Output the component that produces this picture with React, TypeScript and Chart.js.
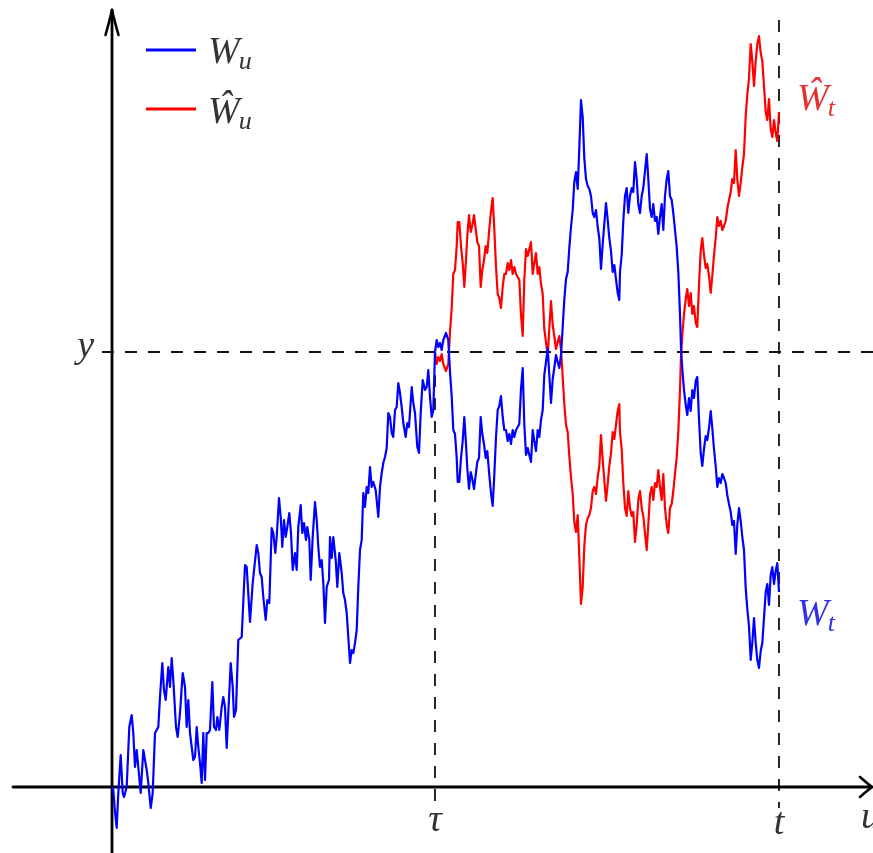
import React, { useEffect, useRef } from "react";
import { Chart, registerables } from "chart.js";

Chart.register(...registerables);

// Time axis u (arbitrary units), path value W (arbitrary units)
const TAU = 323; // first hitting time of level y
const T_END = 667; // final time t
const Y_LEVEL = 435; // level y

// sampled Brownian path W_u (times)
const U: number[] = [
  0, 1.3, 3, 4.7, 6.3, 8.7, 10.7, 12, 14.7, 17.3,
  19.7, 21.3, 23, 24.7, 26.3, 28.7, 31.3, 34.7, 36.3, 38.7,
  40.7, 43, 46.3, 48, 50.3, 52, 53.7, 56.3, 58, 59.7,
  61.3, 64, 65.7, 68, 70.7, 73, 74.7, 76.3, 78, 81.3,
  83, 84.7, 86.3, 88, 89.7, 91.3, 93, 94.7, 96.3, 98,
  100.3, 102, 104, 105.3, 107.3, 109.7, 111.3, 113, 114.7, 116.3,
  118.7, 120.7, 122, 124, 126.3, 129.7, 133, 134.7, 138, 140.7,
  144.7, 146.3, 148, 149.7, 151.3, 153.7, 155.3, 157.3, 159.7, 161.3,
  163.3, 164.7, 167, 168.7, 170.3, 172, 173.7, 175.3, 177.3, 179,
  180.7, 183, 184.7, 186.3, 188.7, 190.3, 192, 194, 195.3, 197.3,
  198.7, 200.7, 203, 204.7, 206.3, 208, 209.7, 211.3, 213, 214.7,
  217, 218, 219.7, 221.3, 223.7, 225.3, 227.3, 229.7, 231.3, 233,
  234.7, 236.3, 238, 239.7, 241.3, 243, 244.7, 246.3, 248, 249.7,
  251.3, 253, 254.7, 256.3, 258, 259.7, 261.3, 263.7, 266.3, 268,
  269.7, 271.3, 273, 274.7, 276.3, 278, 279.7, 281.3, 283, 284.7,
  286.3, 288, 289.7, 291.3, 293.7, 295.3, 297, 299.7, 301.3, 303,
  305.3, 307, 308.7, 310.7, 313, 314.7, 316.3, 318, 319.7, 321.3,
  323, 324.7, 326.3, 328, 329.7, 331.3, 334, 336.3, 338, 339.7,
  341.3, 343, 344.7, 345.7, 347.3, 349, 350.7, 352.3, 354, 355.3,
  357, 358.7, 360.3, 362, 363.7, 365.3, 367, 368.7, 370.3, 372,
  373.7, 375.3, 377.3, 379, 380.7, 382.3, 384, 385.7, 387.3, 389,
  390.7, 392.3, 394, 395.7, 397.3, 399, 400.7, 402.3, 404, 405.7,
  407.3, 409, 410.7, 412.3, 414, 415.7, 417.3, 419, 420.7, 422.3,
  424, 425.7, 427.3, 429, 430.7, 432.3, 434, 435.7, 437.3, 439,
  440.7, 442.3, 444, 445.7, 447.3, 449, 450.7, 452.3, 454, 455.7,
  457.3, 459, 460.7, 462.3, 464, 465.7, 467.3, 469, 470.7, 472.3,
  474, 475.7, 477.3, 479, 480.7, 482.3, 484, 485.7, 487.3, 489,
  490.7, 492.3, 494, 495.7, 497.3, 499, 500.7, 502.3, 504, 505.7,
  507.3, 508, 509.7, 511.3, 513, 514.7, 516.3, 518, 519.7, 521.3,
  523, 524.7, 526.3, 528, 529.7, 531.3, 533, 534.7, 536.3, 538,
  539.7, 541.3, 543, 544.7, 546.3, 548, 549.7, 551.3, 553, 554.7,
  556.3, 558, 559.7, 561.3, 563, 564.7, 566.3, 568, 569, 570.3,
  572, 574, 575.3, 577, 578.7, 580.3, 582, 583.7, 585.3, 587,
  588.7, 590.3, 592, 593.7, 595.3, 597, 598.7, 600.3, 602, 603.7,
  605.3, 607, 608.7, 610.3, 612, 613.7, 615.3, 617, 618.7, 620.3,
  622, 623.7, 625.3, 627, 628.7, 630.3, 632, 633.7, 635.3, 637,
  638.7, 640.3, 642, 643.7, 645.3, 647, 648.7, 650.3, 652, 653.7,
  655.3, 657, 658.7, 660.3, 662, 663.7, 665.3, 667,
];

// sampled Brownian path W_u (values)
const W: number[] = [
  0, -3, -25, -41, -6, 32, -6, -10, 0, 60,
  72, 54, 20, 37, 20, -6, 37, 17, 4, -21,
  -6, 54, 60, 90, 124, 97, 87, 120, 100, 129,
  107, 60, 50, 74, 114, 100, 60, 87, 54, 27,
  30, 60, 40, 24, 4, 54, 7, 54, 54, 57,
  105, 60, 57, 70, 57, 80, 90, 80, 39, 74,
  124, 100, 70, 77, 147, 150, 222, 220, 165, 204,
  242, 234, 214, 210, 190, 167, 187, 184, 259, 254,
  234, 250, 289, 270, 240, 267, 250, 260, 274, 254,
  217, 234, 217, 260, 282, 254, 264, 247, 260, 247,
  207, 250, 285, 267, 240, 220, 227, 204, 164, 200,
  207, 250, 229, 250, 227, 200, 234, 214, 194, 187,
  174, 150, 124, 137, 134, 144, 157, 200, 237, 247,
  294, 280, 300, 294, 320, 300, 305, 297, 270, 300,
  314, 324, 330, 339, 374, 370, 354, 350, 377, 380,
  404, 394, 380, 364, 350, 364, 360, 400, 384, 374,
  340, 334, 374, 407, 397, 400, 417, 390, 370, 377,
  435, 447, 440, 444, 437, 447, 454, 447, 415, 391,
  357, 353, 329, 305, 305, 329, 346, 370, 343, 319,
  298, 315, 308, 298, 312, 325, 329, 370, 353, 343,
  329, 336, 312, 294, 281, 312, 350, 377, 381, 391,
  370, 357, 357, 346, 353, 343, 357, 350, 357, 360,
  363, 398, 419, 363, 332, 339, 332, 325, 357, 346,
  336, 357, 350, 367, 377, 412, 425, 439, 412, 384,
  408, 419, 432, 425, 419, 432, 460, 487, 508, 515,
  539, 560, 577, 605, 615, 598, 639, 687, 670, 629,
  608, 601, 598, 591, 574, 570, 577, 560, 549, 518,
  543, 563, 584, 567, 549, 536, 515, 522, 508, 494,
  487, 515, 532, 566, 591, 599, 574, 591, 599, 595,
  625, 608, 583, 574, 591, 599, 616, 633, 608, 578,
  570, 583, 566, 570, 553, 570, 583, 557, 591, 608,
  616, 591, 587, 574, 557, 540, 515, 473, 439, 418,
  397, 380, 372, 389, 376, 397, 389, 406, 410, 368,
  334, 321, 338, 351, 347, 359, 376, 359, 338, 321,
  300, 309, 304, 313, 309, 304, 292, 283, 275, 262,
  266, 233, 262, 279, 266, 250, 237, 199, 178, 161,
  127, 144, 169, 144, 127, 119, 136, 144, 169, 195,
  203, 182, 212, 220, 203, 216, 224, 195,
];

const U_MIN = -112;
const U_MAX = 761;
const W_MIN = -66;
const W_MAX = 787;

const BLUE = "#0000ff";
const RED = "#ff0000";
const SERIF = '"Liberation Serif", "DejaVu Serif", serif';

const decorations = {
  id: "decorations",
  beforeDatasetsDraw(chart: any) {
    const ctx = chart.ctx as CanvasRenderingContext2D;
    const xs = chart.scales.x;
    const ys = chart.scales.y;
    const px = (u: number) => xs.getPixelForValue(u);
    const py = (w: number) => ys.getPixelForValue(w);
    ctx.save();
    // dashed guides
    ctx.strokeStyle = "#111";
    ctx.lineWidth = 1.8;
    ctx.setLineDash([12, 11]);
    ctx.beginPath();
    ctx.moveTo(px(-10), py(Y_LEVEL));
    ctx.lineTo(px(U_MAX), py(Y_LEVEL));
    ctx.stroke();
    ctx.beginPath();
    ctx.moveTo(px(TAU), py(Y_LEVEL));
    ctx.lineTo(px(TAU), py(-21));
    ctx.stroke();
    ctx.beginPath();
    ctx.moveTo(px(T_END), py(767));
    ctx.lineTo(px(T_END), py(-21));
    ctx.stroke();
    ctx.setLineDash([]);

    // axes
    ctx.strokeStyle = "#000";
    ctx.lineWidth = 2.8;
    ctx.lineCap = "round";
    ctx.lineJoin = "round";
    const x0 = px(0);
    const y0 = py(0);
    const xTip = px(U_MAX) - 1;
    const yTip = py(777);
    ctx.beginPath();
    ctx.moveTo(px(-99), y0);
    ctx.lineTo(xTip, y0);
    ctx.stroke();
    ctx.beginPath();
    ctx.moveTo(x0, py(W_MIN));
    ctx.lineTo(x0, yTip);
    ctx.stroke();
    // arrow heads
    ctx.lineWidth = 2.6;
    ctx.beginPath();
    ctx.moveTo(xTip - 12, y0 - 10);
    ctx.quadraticCurveTo(xTip - 4, y0 - 3, xTip, y0);
    ctx.quadraticCurveTo(xTip - 4, y0 + 3, xTip - 12, y0 + 10);
    ctx.stroke();
    ctx.beginPath();
    ctx.moveTo(x0 - 6.5, yTip + 25);
    ctx.quadraticCurveTo(x0 - 2, yTip + 9, x0, yTip);
    ctx.quadraticCurveTo(x0 + 2, yTip + 9, x0 + 6.5, yTip + 25);
    ctx.stroke();
    ctx.restore();
  },
  afterDraw(chart: any) {
    const ctx = chart.ctx as CanvasRenderingContext2D;
    const xs = chart.scales.x;
    const ys = chart.scales.y;
    const px = (u: number) => xs.getPixelForValue(u);
    const py = (w: number) => ys.getPixelForValue(w);
    ctx.save();
    // legend
    ctx.lineWidth = 3;
    ctx.strokeStyle = BLUE;
    ctx.beginPath();
    ctx.moveTo(146, 50);
    ctx.lineTo(196, 50);
    ctx.stroke();
    ctx.strokeStyle = RED;
    ctx.beginPath();
    ctx.moveTo(146, 109);
    ctx.lineTo(196, 109);
    ctx.stroke();

    const big = `italic 38px ${SERIF}`;
    const small = `italic 26px ${SERIF}`;
    const label = (main: string, sub: string, x: number, y: number, color: string) => {
      ctx.fillStyle = color;
      ctx.textAlign = "left";
      ctx.textBaseline = "alphabetic";
      ctx.font = big;
      ctx.fillText(main, x, y);
      const w = ctx.measureText(main).width;
      ctx.font = small;
      ctx.fillText(sub, x + w - 1, y + 6);
    };
    label("W", "u", 208, 63, "#333");
    label("\u0174", "u", 208, 123, "#333");
    label("\u0174", "t", 797, 110, "rgb(225,50,50)");
    label("W", "t", 797, 625, "rgb(50,50,225)");

    ctx.fillStyle = "#333";
    ctx.font = big;
    ctx.textBaseline = "alphabetic";
    ctx.textAlign = "right";
    ctx.fillText("y", px(0) - 18, py(Y_LEVEL) + 5);
    ctx.textAlign = "center";
    ctx.fillText("\u03c4", px(TAU), 831);
    ctx.fillText("t", px(T_END), 834);
    ctx.textAlign = "left";
    ctx.fillText("u", 861, 828);
    ctx.restore();
  },
};

export default function App() {
  const ref = useRef<HTMLCanvasElement>(null);
  useEffect(() => {
    const blue = U.map((u, i) => ({ x: u, y: W[i] }));
    // reflected path: Ŵ_u = 2y − W_u for u ≥ τ
    const red = U.map((u, i) => ({ x: u, y: 2 * Y_LEVEL - W[i] })).filter((p) => p.x >= TAU);
    const chart = new Chart(ref.current as HTMLCanvasElement, {
      type: "line",
      data: {
        datasets: [
          {
            label: "W_u",
            data: blue,
            borderColor: BLUE,
            borderWidth: 2.2,
            pointRadius: 0,
            tension: 0,
            borderJoinStyle: "round",
          },
          {
            label: "Ŵ_u",
            data: red,
            borderColor: RED,
            borderWidth: 2.2,
            pointRadius: 0,
            tension: 0,
            borderJoinStyle: "round",
          },
        ],
      },
      options: {
        responsive: false,
        animation: false,
        devicePixelRatio: 1,
        layout: { padding: 0 },
        scales: {
          x: { type: "linear", min: U_MIN, max: U_MAX, display: false },
          y: { type: "linear", min: W_MIN, max: W_MAX, display: false },
        },
        plugins: {
          legend: { display: false },
          tooltip: { enabled: false },
        },
      },
      plugins: [decorations],
    });
    return () => chart.destroy();
  }, []);
  return (
    <div style={{ position: "absolute", left: 0, top: 0, width: 873, height: 853, background: "#fff" }}>
      <canvas ref={ref} width={873} height={853} style={{ display: "block" }} />
    </div>
  );
}
